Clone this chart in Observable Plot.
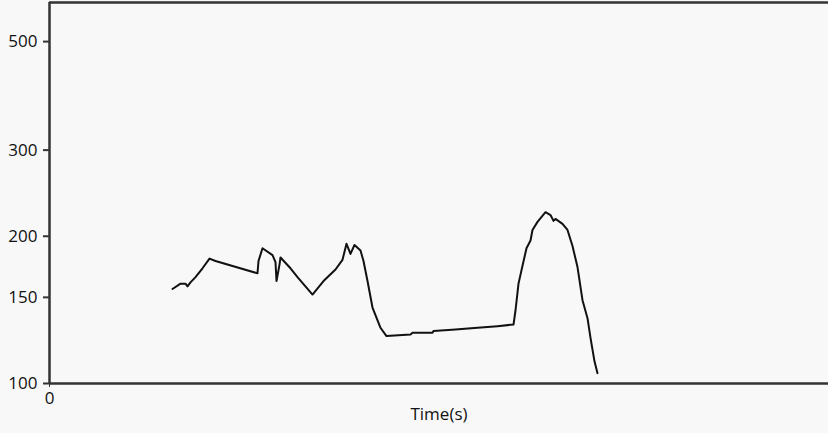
<!DOCTYPE html>
<html>
<head>
<meta charset="utf-8">
<script src="https://cdn.jsdelivr.net/npm/d3@7"></script>
<script src="https://cdn.jsdelivr.net/npm/@observablehq/plot@0.6"></script>
<style>
  html, body { margin: 0; padding: 0; background: #f8f8f8; }
  #chart svg { display: block; background: #f8f8f8; }
  #chart svg text { font-size: 17px; }
</style>
</head>
<body>
<div id="chart"></div>
<script>
// Time in seconds (arbitrary units)
const time = [12.3, 13.1, 13.6, 13.8, 14.1, 14.6, 15.3, 16.0, 16.6, 20.8, 20.9, 21.3, 22.3, 22.6, 22.7, 23.0, 23.1, 24.1, 24.8, 26.3, 27.4, 28.6, 29.3, 29.7, 30.1, 30.5, 31.1, 31.4, 31.8, 32.3, 33.1, 33.7, 36.1, 36.3, 38.3, 38.4, 40.6, 42.8, 44.8, 46.4, 46.6, 46.9, 47.3, 47.7, 48.1, 48.3, 48.8, 49.6, 50.1, 50.4, 50.6, 51.3, 51.8, 52.3, 52.8, 53.3, 53.8, 54.1, 54.5, 54.8];
const value = [156, 160, 160, 158, 161, 165, 172, 180, 178, 168, 178, 189, 183, 177, 162, 175, 181, 172, 165, 152, 162, 171, 179, 193, 184, 192, 187, 178, 162, 143, 130, 125, 126, 127, 127, 128, 129, 130, 131, 132, 141, 160, 174, 189, 196, 206, 214, 224, 221, 215, 217, 212, 206, 191, 173, 148, 136, 124, 111, 105];
const yTicks = [100, 150, 200, 300, 500];
const xTicks = [0];

const data = time.map((t, i) => ({time: t, value: value[i]}));

const chart = Plot.plot({
  width: 828,
  height: 433,
  marginLeft: 49,
  marginRight: 0,
  marginTop: 2,
  marginBottom: 50,
  style: {fontFamily: "'Open Sans', sans-serif", fontSize: "17px", color: "#111", background: "#f8f8f8"},
  x: {domain: [0, 77.9]},
  y: {type: "log", domain: [100, 601]},
  marks: [
    Plot.axisY({ticks: yTicks, tickSize: 6, tickPadding: 6, tickFormat: d => String(d), label: null, stroke: "#333", strokeWidth: 2}),
    Plot.axisX({ticks: xTicks, tickSize: 4, tickPadding: 4, tickFormat: d => String(d), label: "Time(s)", labelAnchor: "center", labelArrow: "none", labelOffset: 36, stroke: "#333"}),
    Plot.ruleY([100], {stroke: "#333", strokeWidth: 2.5}),
    Plot.ruleY([601], {stroke: "#333", strokeWidth: 2.5}),
    Plot.ruleX([0], {stroke: "#333", strokeWidth: 2.5, y1: 100, y2: 601}),
    Plot.line(data, {x: "time", y: "value", stroke: "#111", strokeWidth: 2, curve: "linear"})
  ]
});
document.getElementById("chart").appendChild(chart);
</script>
</body>
</html>
